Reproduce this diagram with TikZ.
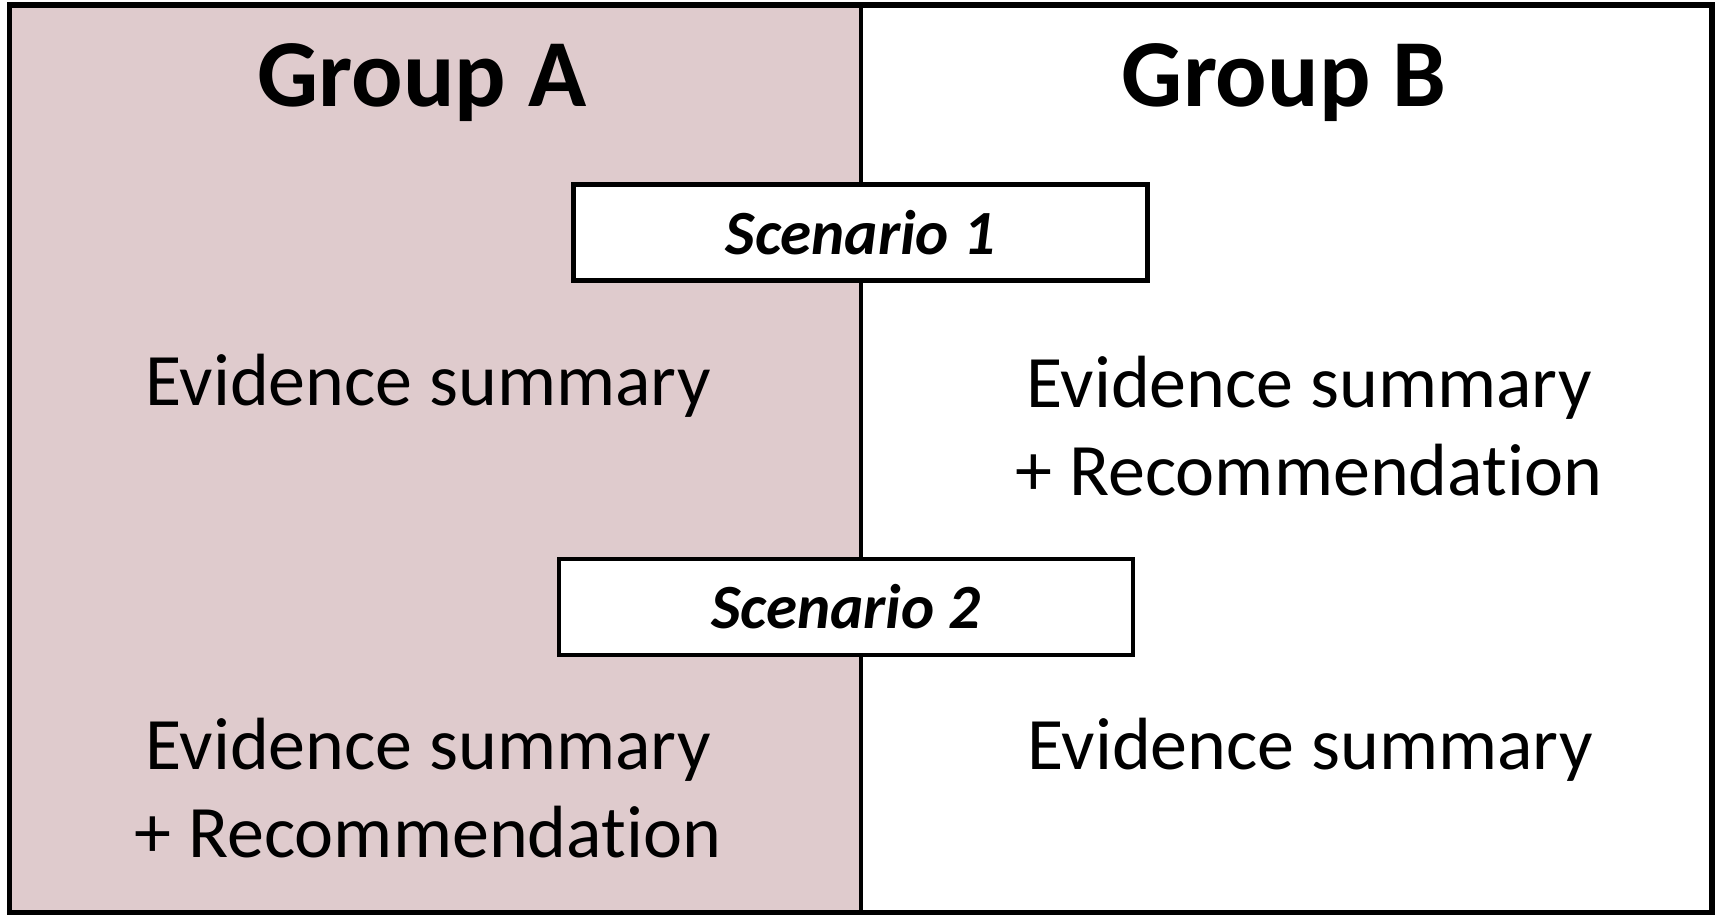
\documentclass[tikz,border=0pt]{standalone}
\usepackage{fontspec}
\setmainfont{Carlito}[Ligatures=NoCommon]
\usepackage{xcolor}
\definecolor{grouppink}{HTML}{DFCBCD}

\tikzset{
  grouptitle/.style={anchor=base, inner sep=0pt, font=\fontsize{96}{110}\selectfont\bfseries},
  scenbox/.style={draw, fill=white, line width=4.5pt, minimum width=574pt, minimum height=96pt,
    inner sep=0pt, font=\fontsize{63}{70}\selectfont\bfseries\itshape},
  evtext/.style={anchor=base, inner sep=0pt, align=center, font=\fontsize{74}{88}\selectfont}
}

\begin{document}
\begin{tikzpicture}[x=1pt,y=-1pt]

    % Page
    \useasboundingbox (0,0) rectangle (1716,914);

    % Corners and divider
    \coordinate (TL) at (9.5,5);
    \coordinate (BR) at (1712,912.5);
    \coordinate (Mtop) at (861,5);
    \coordinate (Mbot) at (861,912.5);

    % Group A half
    \fill[grouppink] (TL) rectangle (Mbot);

    % Divider and frame
    \draw[line width=4.5pt] (Mtop) -- (Mbot);
    \draw[line width=5.5pt] (TL) rectangle (BR);

    % Titles
    \node[grouptitle] (grpA) at (422,106) {Group A};
    \node[grouptitle] (grpB) at (1284,106) {Group B};

    % Scenario boxes
    \node[scenbox] (scen1) at (860.5,232.5) {Scenario 1};
    \node[scenbox] (scen2) at (846,607) {Scenario 2};

    % Scenario 1 contents (base = last line)
    \node[evtext] (s1A) at (428,405) {Evidence summary};
    \node[evtext] (s1B) at (1309,495) {Evidence summary\\+ Recommendation};

    % Scenario 2 contents
    \node[evtext] (s2A) at (428,857) {Evidence summary\\+ Recommendation};
    \node[evtext] (s2B) at (1310,769) {Evidence summary};

\end{tikzpicture}
\end{document}
